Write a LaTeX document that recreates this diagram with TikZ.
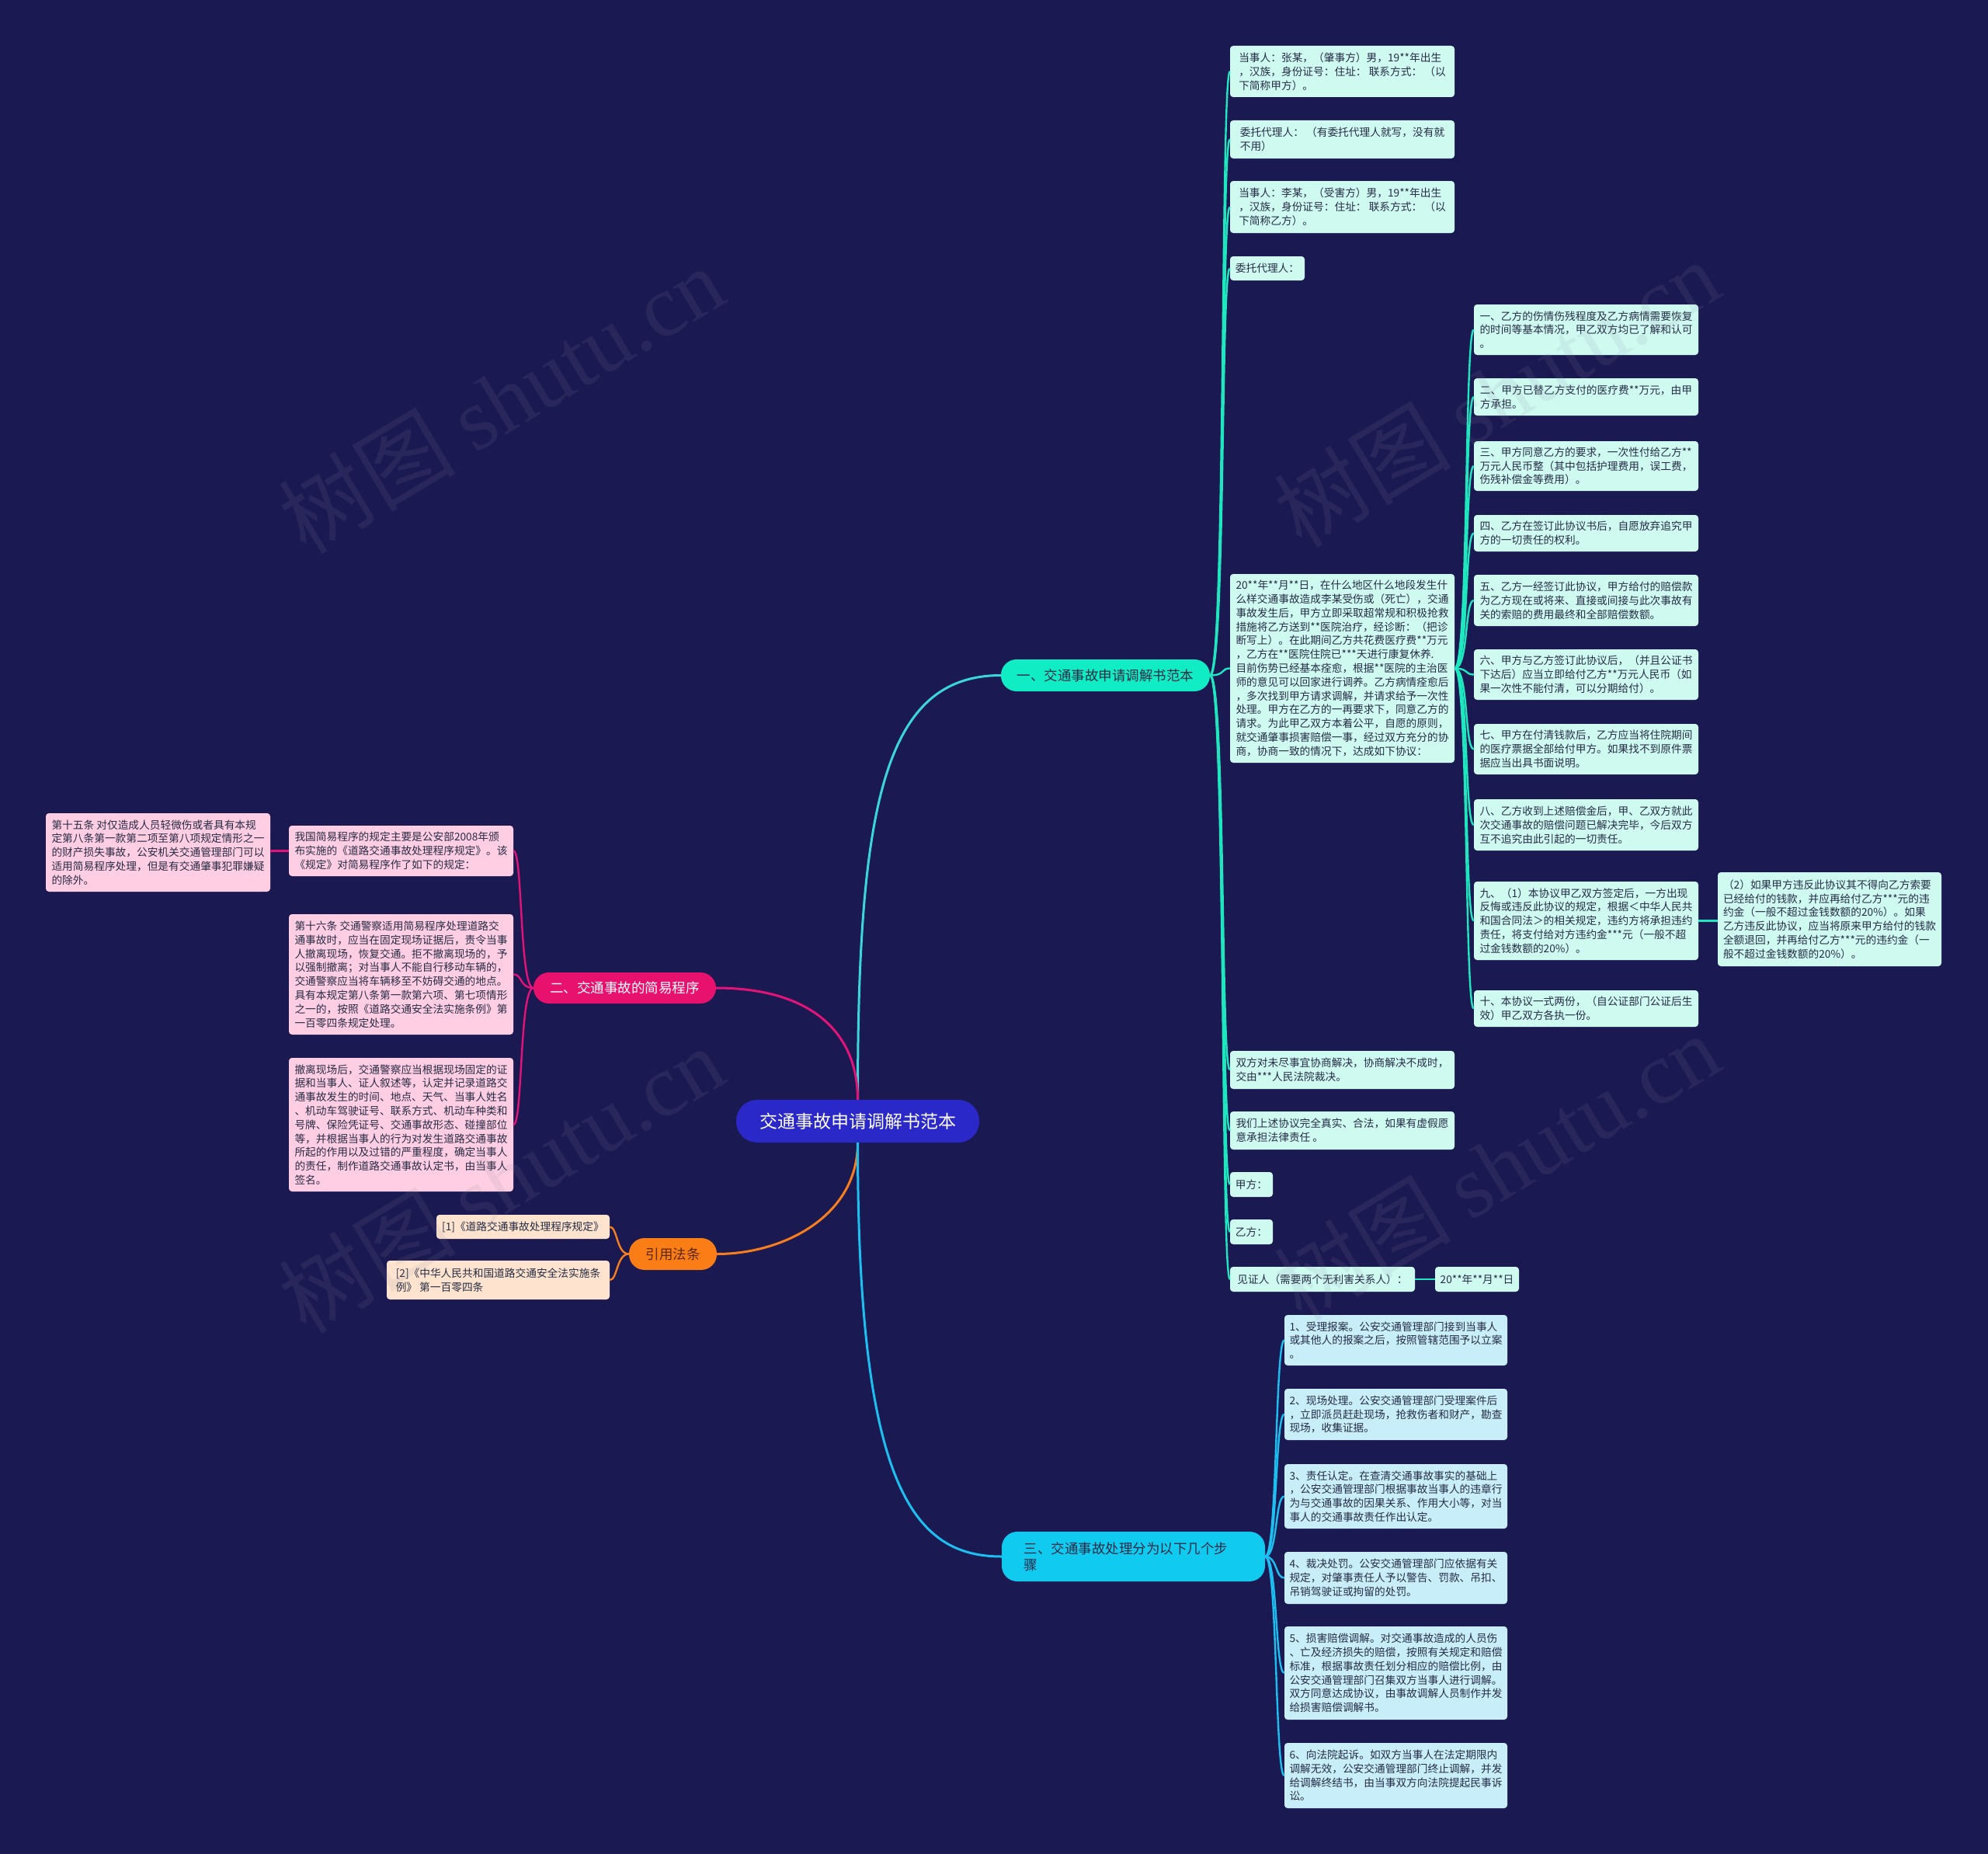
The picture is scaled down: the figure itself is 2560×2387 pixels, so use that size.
\documentclass[tikz,border=0pt]{standalone}
\usepackage{fontspec}
\newfontfamily\cjk{Noto Sans CJK SC}
\newfontfamily\wmserif{Liberation Serif}
\definecolor{bg}{RGB}{27,25,82}
\definecolor{rootfill}{RGB}{42,40,200}
\definecolor{bonefill}{RGB}{16,236,196}
\definecolor{btwofill}{RGB}{232,18,110}
\definecolor{reffill}{RGB}{250,125,22}
\definecolor{bthreefill}{RGB}{16,202,240}
\definecolor{mintfill}{RGB}{206,250,240}
\definecolor{pinkfill}{RGB}{255,206,226}
\definecolor{peachfill}{RGB}{254,228,206}
\definecolor{bluefill}{RGB}{200,238,250}
\definecolor{darktext}{RGB}{38,44,70}
\definecolor{linemint}{RGB}{30,230,190}
\definecolor{linecyan}{RGB}{58,214,218}
\definecolor{linemag}{RGB}{226,20,120}
\definecolor{lineorange}{RGB}{246,126,30}
\definecolor{lineblue}{RGB}{28,192,240}
\definecolor{wm}{RGB}{140,140,160}
\tikzset{
  leafbox/.style={rounded corners=4pt, align=left, inner xsep=6pt, inner ysep=0pt,
    font=\cjk\fontsize{13.7pt}{17.8pt}\selectfont, text=darktext},
  mleaf/.style={leafbox, fill=mintfill},
  pleaf/.style={leafbox, fill=pinkfill},
  rleaf/.style={leafbox, fill=peachfill},
  bleaf/.style={leafbox, fill=bluefill},
  pill/.style={rounded corners=20pt, inner sep=0pt, font=\cjk\fontsize{17.5pt}{21pt}\selectfont},
  conn/.style={line width=2.4pt},
  mainconn/.style={line width=3pt},
  wmark/.style={rotate=31, text=wm, opacity=0.12, inner sep=0pt}
}
\begin{document}
\begin{tikzpicture}[x=1pt,y=-1pt]
\useasboundingbox (0,0) rectangle (2560,2387);
\fill[bg] (0,0) rectangle (2560,2387);

% ---------- main nodes ----------
\node[rounded corners=27pt, fill=rootfill, text=white, minimum width=313pt, minimum height=55pt,
  font=\cjk\fontsize{23pt}{27pt}\selectfont, inner sep=0pt] (root) at (1104.5,1443.5) {交通事故申请调解书范本};
\node[pill, fill=bonefill, text=darktext, minimum width=269pt, minimum height=41pt] (b1) at (1423.5,869.5) {一、交通事故申请调解书范本};
\node[pill, fill=btwofill, text=white, minimum width=235pt, minimum height=40pt] (b2) at (804.5,1272) {二、交通事故的简易程序};
\node[pill, fill=reffill, text={rgb,255:red,90;green,40;blue,10}, minimum width=113pt, minimum height=41pt] (ref) at (866.5,1614.5) {引用法条};
\node[pill, fill=bthreefill, text=darktext, minimum width=339pt, minimum height=64pt, text width=282pt, align=left] (b3) at (1459.5,2004) {三、交通事故处理分为以下几个步\\骤};

% ---------- branch 1 leaves ----------
\node[mleaf, minimum width=289pt, minimum height=66pt] (l1) at (1728.5,92) {当事人：张某，（肇事方）男，19**年出生\\，汉族，身份证号：住址： 联系方式： （以\\下简称甲方）。};
\node[mleaf, minimum width=289pt, minimum height=49pt] (l2) at (1728.5,179.5) {委托代理人： （有委托代理人就写，没有就\\不用）};
\node[mleaf, minimum width=289pt, minimum height=67pt] (l3) at (1728.5,266.5) {当事人：李某，（受害方）男，19**年出生\\，汉族，身份证号：住址： 联系方式： （以\\下简称乙方）。};
\node[mleaf, minimum width=96pt, minimum height=31pt] (l4) at (1632,345.5) {委托代理人：};
\node[mleaf, minimum width=289pt, minimum height=243pt] (l5) at (1728.5,860.5) {20**年**月**日，在什么地区什么地段发生什\\么样交通事故造成李某受伤或（死亡），交通\\事故发生后，甲方立即采取超常规和积极抢救\\措施将乙方送到**医院治疗，经诊断：（把诊\\断写上）。在此期间乙方共花费医疗费**万元\\，乙方在**医院住院已***天进行康复休养.\\目前伤势已经基本痊愈，根据**医院的主治医\\师的意见可以回家进行调养。乙方病情痊愈后\\，多次找到甲方请求调解，并请求给予一次性\\处理。甲方在乙方的一再要求下，同意乙方的\\请求。为此甲乙双方本着公平，自愿的原则，\\就交通肇事损害赔偿一事，经过双方充分的协\\商，协商一致的情况下，达成如下协议：};
\node[mleaf, minimum width=289pt, minimum height=49pt] (l6) at (1728.5,1377.5) {双方对未尽事宜协商解决，协商解决不成时，\\交由***人民法院裁决。};
\node[mleaf, minimum width=289pt, minimum height=49pt] (l7) at (1728.5,1455.5) {我们上述协议完全真实、合法，如果有虚假愿\\意承担法律责任 。};
\node[mleaf, minimum width=55pt, minimum height=32pt] (l8) at (1611.5,1525) {甲方：};
\node[mleaf, minimum width=55pt, minimum height=32pt] (l9) at (1611.5,1586) {乙方：};
\node[mleaf, minimum width=238pt, minimum height=32pt] (l10) at (1703,1647) {见证人（需要两个无利害关系人）：};
\node[mleaf, minimum width=108pt, minimum height=32pt] (l10a) at (1902,1647) {20**年**月**日};

% ---------- sub leaves of l5 ----------
\node[mleaf, minimum width=289pt, minimum height=65pt] (s1) at (2042.5,424.5) {一、乙方的伤情伤残程度及乙方病情需要恢复\\的时间等基本情况，甲乙双方均已了解和认可\\。};
\node[mleaf, minimum width=289pt, minimum height=48pt] (s2) at (2042.5,511) {二、甲方已替乙方支付的医疗费**万元，由甲\\方承担。};
\node[mleaf, minimum width=289pt, minimum height=64pt] (s3) at (2042.5,600) {三、甲方同意乙方的要求，一次性付给乙方**\\万元人民币整（其中包括护理费用，误工费，\\伤残补偿金等费用）。};
\node[mleaf, minimum width=289pt, minimum height=47pt] (s4) at (2042.5,686.5) {四、乙方在签订此协议书后，自愿放弃追究甲\\方的一切责任的权利。};
\node[mleaf, minimum width=289pt, minimum height=66pt] (s5) at (2042.5,773) {五、乙方一经签订此协议，甲方给付的赔偿款\\为乙方现在或将来、直接或间接与此次事故有\\关的索赔的费用最终和全部赔偿数额。};
\node[mleaf, minimum width=289pt, minimum height=65pt] (s6) at (2042.5,868.5) {六、甲方与乙方签订此协议后，（并且公证书\\下达后）应当立即给付乙方**万元人民币（如\\果一次性不能付清，可以分期给付）。};
\node[mleaf, minimum width=289pt, minimum height=65pt] (s7) at (2042.5,964.5) {七、甲方在付清钱款后，乙方应当将住院期间\\的医疗票据全部给付甲方。如果找不到原件票\\据应当出具书面说明。};
\node[mleaf, minimum width=289pt, minimum height=66pt] (s8) at (2042.5,1062) {八、乙方收到上述赔偿金后，甲、乙双方就此\\次交通事故的赔偿问题已解决完毕，今后双方\\互不追究由此引起的一切责任。};
\node[mleaf, minimum width=289pt, minimum height=101pt] (s9) at (2042.5,1185.5) {九、（1）本协议甲乙双方签定后，一方出现\\反悔或违反此协议的规定，根据＜中华人民共\\和国合同法＞的相关规定，违约方将承担违约\\责任，将支付给对方违约金***元（一般不超\\过金钱数额的20\%）。};
\node[mleaf, minimum width=288pt, minimum height=121pt] (s9a) at (2356,1183.5) {（2）如果甲方违反此协议其不得向乙方索要\\已经给付的钱款，并应再给付乙方***元的违\\约金（一般不超过金钱数额的20\%）。如果\\乙方违反此协议，应当将原来甲方给付的钱款\\全额退回，并再给付乙方***元的违约金（一\\般不超过金钱数额的20\%）。};
\node[mleaf, minimum width=289pt, minimum height=47pt] (s10) at (2042.5,1298.5) {十、本协议一式两份，（自公证部门公证后生\\效）甲乙双方各执一份。};

% ---------- branch 2 leaves ----------
\node[pleaf, minimum width=289pt, minimum height=65pt] (p1) at (516.5,1095.5) {我国简易程序的规定主要是公安部2008年颁\\布实施的《道路交通事故处理程序规定》。该\\《规定》对简易程序作了如下的规定：};
\node[pleaf, minimum width=289pt, minimum height=101pt] (p0) at (203.5,1097.5) {第十五条 对仅造成人员轻微伤或者具有本规\\定第八条第一款第二项至第八项规定情形之一\\的财产损失事故，公安机关交通管理部门可以\\适用简易程序处理，但是有交通肇事犯罪嫌疑\\的除外。};
\node[pleaf, minimum width=289pt, minimum height=155pt] (p2) at (516.5,1254.5) {第十六条 交通警察适用简易程序处理道路交\\通事故时，应当在固定现场证据后，责令当事\\人撤离现场，恢复交通。拒不撤离现场的，予\\以强制撤离；对当事人不能自行移动车辆的，\\交通警察应当将车辆移至不妨碍交通的地点。\\具有本规定第八条第一款第六项、第七项情形\\之一的，按照《道路交通安全法实施条例》第\\一百零四条规定处理。};
\node[pleaf, minimum width=289pt, minimum height=172pt] (p3) at (516.5,1448) {撤离现场后，交通警察应当根据现场固定的证\\据和当事人、证人叙述等，认定并记录道路交\\通事故发生的时间、地点、天气、当事人姓名\\、机动车驾驶证号、联系方式、机动车种类和\\号牌、保险凭证号、交通事故形态、碰撞部位\\等，并根据当事人的行为对发生道路交通事故\\所起的作用以及过错的严重程度，确定当事人\\的责任，制作道路交通事故认定书，由当事人\\签名。};

% ---------- references ----------
\node[rleaf, minimum width=223pt, minimum height=31pt] (r1) at (673.5,1579.5) {[1]《道路交通事故处理程序规定》};
\node[rleaf, minimum width=287pt, minimum height=50pt] (r2) at (641.5,1648) {[2]《中华人民共和国道路交通安全法实施条\\例》 第一百零四条};

% ---------- branch 3 leaves ----------
\node[bleaf, minimum width=287pt, minimum height=65pt] (t1) at (1797.5,1725.5) {1、受理报案。公安交通管理部门接到当事人\\或其他人的报案之后，按照管辖范围予以立案\\。};
\node[bleaf, minimum width=287pt, minimum height=66pt] (t2) at (1797.5,1821) {2、现场处理。公安交通管理部门受理案件后\\，立即派员赶赴现场，抢救伤者和财产，勘查\\现场，收集证据。};
\node[bleaf, minimum width=287pt, minimum height=83pt] (t3) at (1797.5,1926.5) {3、责任认定。在查清交通事故事实的基础上\\，公安交通管理部门根据事故当事人的违章行\\为与交通事故的因果关系、作用大小等，对当\\事人的交通事故责任作出认定。};
\node[bleaf, minimum width=287pt, minimum height=67pt] (t4) at (1797.5,2031.5) {4、裁决处罚。公安交通管理部门应依据有关\\规定，对肇事责任人予以警告、罚款、吊扣、\\吊销驾驶证或拘留的处罚。};
\node[bleaf, minimum width=287pt, minimum height=120pt] (t5) at (1797.5,2154) {5、损害赔偿调解。对交通事故造成的人员伤\\、亡及经济损失的赔偿，按照有关规定和赔偿\\标准，根据事故责任划分相应的赔偿比例，由\\公安交通管理部门召集双方当事人进行调解。\\双方同意达成协议，由事故调解人员制作并发\\给损害赔偿调解书。};
\node[bleaf, minimum width=287pt, minimum height=84pt] (t6) at (1797.5,2286) {6、向法院起诉。如双方当事人在法定期限内\\调解无效，公安交通管理部门终止调解，并发\\给调解终结书，由当事双方向法院提起民事诉\\讼。};

% ---------- main connectors ----------
\draw[mainconn, linecyan] (root.north) .. controls +(0,-380) and +(-150,0) .. (b1.west);
\draw[mainconn, linemag] (root.north) .. controls +(0,-90) and +(118,0) .. (b2.east);
\draw[mainconn, lineorange] (root.south) .. controls +(0,95) and +(85,0) .. (ref.east);
\draw[mainconn, lineblue] (root.south) .. controls +(0,440) and +(-115,0) .. (b3.west);

% ---------- branch 1 connectors ----------
\foreach \n in {l1,l2,l3,l4,l5,l6,l7,l8,l9,l10}
  \draw[conn, linemint] (b1.east) .. controls +(20,0) and +(-12,0) .. (\n.west);
\draw[conn, linemint] (l10.east) -- (l10a.west);
\foreach \n in {s1,s2,s3,s4,s5,s6,s7,s8,s9,s10}
  \draw[conn, linemint] (l5.east) .. controls +(18,0) and +(-12,0) .. (\n.west);
\draw[conn, linemint] (s9.east) -- (s9.east -| s9a.west);

% ---------- branch 2 connectors ----------
\foreach \n in {p1,p2,p3}
  \draw[conn, linemag] (b2.west) .. controls +(-18,0) and +(12,0) .. (\n.east);
\draw[conn, linemag] (p1.west) -- (p1.west -| p0.east);

% ---------- references connectors ----------
\foreach \n in {r1,r2}
  \draw[conn, lineorange] (ref.west) .. controls +(-16,0) and +(10,0) .. (\n.east);

% ---------- branch 3 connectors ----------
\foreach \n in {t1,t2,t3,t4,t5,t6}
  \draw[conn, lineblue] (b3.east) .. controls +(16,0) and +(-12,0) .. (\n.west);

% ---------- watermarks ----------
\foreach \wx/\wy [count=\i] in {645/514, 1927/506, 645/1518, 1927/1502}
  \node[wmark] (wm\i) at (\wx,\wy) {\cjk\fontsize{114pt}{120pt}\selectfont 树图 \wmserif shutu.cn};
\end{tikzpicture}
\end{document}
